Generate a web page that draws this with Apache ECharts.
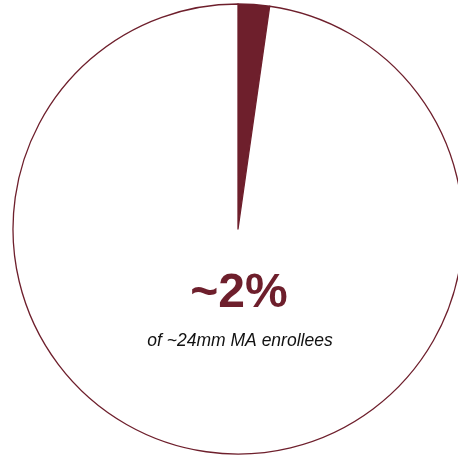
<!DOCTYPE html>
<html>
<head>
<meta charset="utf-8">
<script src="https://cdn.jsdelivr.net/npm/echarts@6/dist/echarts.min.js"></script>
<style>
html,body{margin:0;padding:0;background:#fff;}
#c{width:458px;height:457px;}
</style>
</head>
<body>
<div id="c"></div>
<script>
const categories = ["MA enrollees in segment", "Other MA enrollees"];
const shares = [2.25, 97.75];
const bigLabel = "~2%";
const subLabel = "of ~24mm MA enrollees";
const maroon = "#6e1f2c";

const chart = echarts.init(document.getElementById('c'), null, {renderer: 'canvas'});
chart.setOption({
  backgroundColor: '#ffffff',
  animation: false,
  title: [
    {text: bigLabel, left: 234, top: 265, textAlign: 'center',
     textStyle: {color: maroon, fontSize: 48, fontWeight: 'bold', fontFamily: '"Liberation Sans", Arial, sans-serif'}},
    {text: subLabel, left: 235, top: 327, textAlign: 'center',
     textStyle: {color: '#111', fontSize: 17.5, fontStyle: 'italic', fontWeight: 'normal', fontFamily: '"Liberation Sans", Arial, sans-serif'}}
  ],
  series: [{
    type: 'pie',
    center: [238, 229],
    radius: [0, 225],
    startAngle: 90,
    clockwise: true,
    silent: true,
    label: {show: false},
    labelLine: {show: false},
    itemStyle: {borderColor: maroon, borderWidth: 1.3},
    data: categories.map((n, i) => ({
      name: n, value: shares[i],
      itemStyle: {color: i === 0 ? maroon : '#ffffff'}
    }))
  }]
});
</script>
</body>
</html>
